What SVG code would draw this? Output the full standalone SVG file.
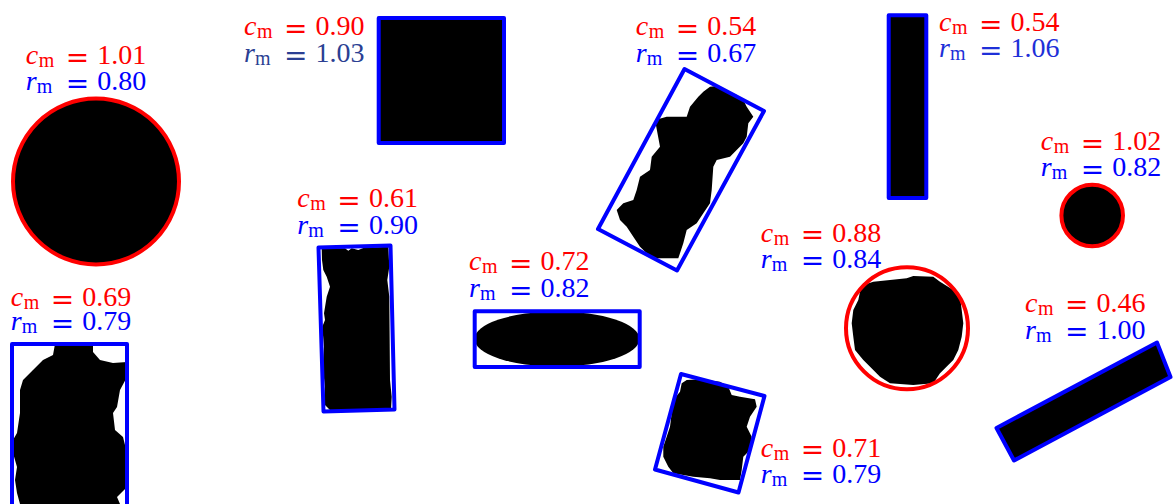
<svg xmlns="http://www.w3.org/2000/svg" width="1173" height="504" viewBox="0 0 1173 504">
<style>
text{font-family:"Liberation Serif","Times New Roman",serif;font-size:28px}
.c{fill:#ff0000}
.r{fill:#0000ff}
.rd{fill:#2b3f93}
.rb{fill:#1e30d8}
.v{font-style:italic}
.s{font-size:20px}
.eq{font-family:"DejaVu Serif",serif;font-size:28px}
.bx{fill:none;stroke:#0000ff;stroke-width:4;stroke-linejoin:round}
.cc{fill:#000;stroke:#ff0000;stroke-width:4}
.ring{fill:none;stroke:#ff0000;stroke-width:4}
.blk{fill:#000}
</style>

<g id="shape-circle-large">
<circle class="cc" cx="96" cy="181.5" r="83"/>
<text transform="translate(25.7,64)"><tspan class="c v" x="0" y="0">c</tspan><tspan class="c s" x="13" y="3">m</tspan><tspan class="c eq" x="40" y="2.5">=</tspan><tspan class="c" x="71.6" y="0">1.01</tspan><tspan class="r v" x="0" y="26">r</tspan><tspan class="r s" x="11" y="29">m</tspan><tspan class="r eq" x="40" y="28.5">=</tspan><tspan class="r" x="71.6" y="26">0.80</tspan></text>
</g>

<g id="shape-blob-bottomleft">
<polygon class="blk" points="55,344 53,355 43,360 33,370 23,380 20,390 20,413 17,433 13,440 13,453 17,467 15,480 17,493 20,504 120,504 117,497 127,487 125,473 127,453 123,437 115,430 113,413 117,407 120,390 127,377 127,362 113,363 100,360 93,352 93,344"/>
<polyline class="bx" points="12,510 12,344 127,344 127,510"/>
<text transform="translate(10.7,306)"><tspan class="c v" x="0" y="0">c</tspan><tspan class="c s" x="13" y="3">m</tspan><tspan class="c eq" x="40" y="2.5">=</tspan><tspan class="c" x="71.6" y="0">0.69</tspan><tspan class="r v" x="0" y="24">r</tspan><tspan class="r s" x="11" y="27">m</tspan><tspan class="r eq" x="40" y="26.5">=</tspan><tspan class="r" x="71.6" y="24">0.79</tspan></text>
</g>

<g id="shape-square">
<rect class="blk" x="378.7" y="18" width="125.3" height="125"/>
<rect class="bx" x="378.7" y="18" width="125.3" height="125"/>
<text transform="translate(244,35)"><tspan class="c v" x="0" y="0">c</tspan><tspan class="c s" x="13" y="3">m</tspan><tspan class="c eq" x="40" y="2.5">=</tspan><tspan class="c" x="71.6" y="0">0.90</tspan><tspan class="rd v" x="0" y="27">r</tspan><tspan class="rd s" x="11" y="30">m</tspan><tspan class="rd eq" x="40" y="29.5">=</tspan><tspan class="rd" x="71.6" y="27">1.03</tspan></text>
</g>

<g id="shape-blob-tall">
<polygon class="blk" points="321.7,248.3 345,248.3 348.3,250.7 351.7,248.3 358.3,250 363.3,248 388.3,246.7 389.3,266.7 387.3,280 389.3,296.7 390,380 391.7,396.7 391,410 373.3,410.7 346.7,410 330,410 324,404 325,386.7 322.7,366.7 324,346.7 322.3,326.7 325,320 324,313.3 326.7,296.7 330,286.7 326.7,276.7 323.3,270 322,260"/>
<polygon class="bx" points="318.5,247.5 390.5,245.5 394.5,409.5 323.5,411.5"/>
<text transform="translate(297.3,207)"><tspan class="c v" x="0" y="0">c</tspan><tspan class="c s" x="13" y="3">m</tspan><tspan class="c eq" x="40" y="2.5">=</tspan><tspan class="c" x="71.6" y="0">0.61</tspan><tspan class="r v" x="0" y="27">r</tspan><tspan class="r s" x="11" y="30">m</tspan><tspan class="r eq" x="40" y="29.5">=</tspan><tspan class="r" x="71.6" y="27">0.90</tspan></text>
</g>

<g id="shape-ellipse">
<ellipse class="blk" cx="557" cy="339" rx="82.5" ry="27.5"/>
<rect class="bx" x="474.7" y="311.3" width="165" height="55.7"/>
<text transform="translate(469,270)"><tspan class="c v" x="0" y="0">c</tspan><tspan class="c s" x="13" y="3">m</tspan><tspan class="c eq" x="40" y="2.5">=</tspan><tspan class="c" x="71.6" y="0">0.72</tspan><tspan class="r v" x="0" y="27">r</tspan><tspan class="r s" x="11" y="30">m</tspan><tspan class="r eq" x="40" y="29.5">=</tspan><tspan class="r" x="71.6" y="27">0.82</tspan></text>
</g>

<g id="shape-blob-tilted">
<polygon class="blk" points="710,86.7 716.7,86 730,91.7 736.7,95 743.3,100 746.7,106.7 753.3,116.7 748.3,123.3 746.7,136.7 743.3,143.3 730,156.7 716.7,160 713.3,166.7 711.7,190 710,203.3 703.3,213.3 696.7,223.3 686.7,230 683.3,243.3 678.3,258.3 656.7,258.3 646.7,253.3 640,246.7 633.3,236.7 626.7,226.7 620,220 616.7,210 623.3,203.3 633.3,200 636.7,190 640,176.7 650,170 651.7,156.7 660,146.7 655,120 666.7,116.7 686.7,116.7 690,106.7 698.3,96.7 703.3,91.7"/>
<polygon class="bx" points="684.5,69 764,111 677,270.5 598,229"/>
<text transform="translate(635.7,35)"><tspan class="c v" x="0" y="0">c</tspan><tspan class="c s" x="13" y="3">m</tspan><tspan class="c eq" x="40" y="2.5">=</tspan><tspan class="c" x="71.6" y="0">0.54</tspan><tspan class="r v" x="0" y="27">r</tspan><tspan class="r s" x="11" y="30">m</tspan><tspan class="r eq" x="40" y="29.5">=</tspan><tspan class="r" x="71.6" y="27">0.67</tspan></text>
</g>

<g id="shape-blob-square-tilted">
<polygon class="blk" points="686.7,380 700,379.3 720,381.7 728.3,386.7 731.7,395 740,396.7 755,399.3 756.7,406.7 750,416.7 746.7,426.7 751.7,436.7 750,450 743.3,456.7 741.7,470 740,480 720,480 710,478.3 693.3,476.7 673.3,473.3 668.3,466.7 663.3,456.7 663.3,446.7 666.7,436.7 670,426.7 671.7,413.3 673.3,400 680,391.7 681.7,383.3"/>
<polygon class="bx" points="681,374 764.5,396 738.5,492.5 655,469.5"/>
<text transform="translate(760.7,456.7)"><tspan class="c v" x="0" y="0">c</tspan><tspan class="c s" x="13" y="3">m</tspan><tspan class="c eq" x="40" y="2.5">=</tspan><tspan class="c" x="71.6" y="0">0.71</tspan><tspan class="r v" x="0" y="26">r</tspan><tspan class="r s" x="11" y="29">m</tspan><tspan class="r eq" x="40" y="28.5">=</tspan><tspan class="r" x="71.6" y="26">0.79</tspan></text>
</g>

<g id="shape-blob-round">
<polygon class="blk" points="863.3,285 873.3,281.7 890,280 906.7,278.3 913.3,276 933.3,276.7 940,281.7 953.3,290 960,296.7 961.7,310 963.3,323.3 961.7,336.7 958.3,350 953.3,360 940,373.3 933.3,383.3 913.3,385 890,383.3 880,376.7 873.3,370 863.3,360 855,350 853.3,336.7 851.7,323.3 853.3,310 858.3,300 860,291.7"/>
<circle class="ring" cx="907" cy="328.3" r="61"/>
<text transform="translate(760.7,241.7)"><tspan class="c v" x="0" y="0">c</tspan><tspan class="c s" x="13" y="3">m</tspan><tspan class="c eq" x="40" y="2.5">=</tspan><tspan class="c" x="71.6" y="0">0.88</tspan><tspan class="r v" x="0" y="26">r</tspan><tspan class="r s" x="11" y="29">m</tspan><tspan class="r eq" x="40" y="28.5">=</tspan><tspan class="r" x="71.6" y="26">0.84</tspan></text>
</g>

<g id="shape-bar-vertical">
<rect class="blk" x="888.7" y="15.3" width="37.6" height="182.7"/>
<rect class="bx" x="888.7" y="15.3" width="37.6" height="182.7"/>
<text transform="translate(939,31)"><tspan class="c v" x="0" y="0">c</tspan><tspan class="c s" x="13" y="3">m</tspan><tspan class="c eq" x="40" y="2.5">=</tspan><tspan class="c" x="71.6" y="0">0.54</tspan><tspan class="rb v" x="0" y="26">r</tspan><tspan class="rb s" x="11" y="29">m</tspan><tspan class="rb eq" x="40" y="28.5">=</tspan><tspan class="rb" x="71.6" y="26">1.06</tspan></text>
</g>

<g id="shape-circle-small">
<circle class="cc" cx="1092.2" cy="215.5" r="30.8"/>
<text transform="translate(1040.7,150)"><tspan class="c v" x="0" y="0">c</tspan><tspan class="c s" x="13" y="3">m</tspan><tspan class="c eq" x="40" y="2.5">=</tspan><tspan class="c" x="71.6" y="0">1.02</tspan><tspan class="r v" x="0" y="26">r</tspan><tspan class="r s" x="11" y="29">m</tspan><tspan class="r eq" x="40" y="28.5">=</tspan><tspan class="r" x="71.6" y="26">0.82</tspan></text>
</g>

<g id="shape-bar-tilted">
<polygon class="blk" points="996.5,428 1157,342.5 1170.5,377 1014,460.5"/>
<polygon class="bx" points="996.5,428 1157,342.5 1170.5,377 1014,460.5"/>
<text transform="translate(1025,311.7)"><tspan class="c v" x="0" y="0">c</tspan><tspan class="c s" x="13" y="3">m</tspan><tspan class="c eq" x="40" y="2.5">=</tspan><tspan class="c" x="71.6" y="0">0.46</tspan><tspan class="r v" x="0" y="27">r</tspan><tspan class="r s" x="11" y="30">m</tspan><tspan class="r eq" x="40" y="29.5">=</tspan><tspan class="r" x="71.6" y="27">1.00</tspan></text>
</g>
</svg>
